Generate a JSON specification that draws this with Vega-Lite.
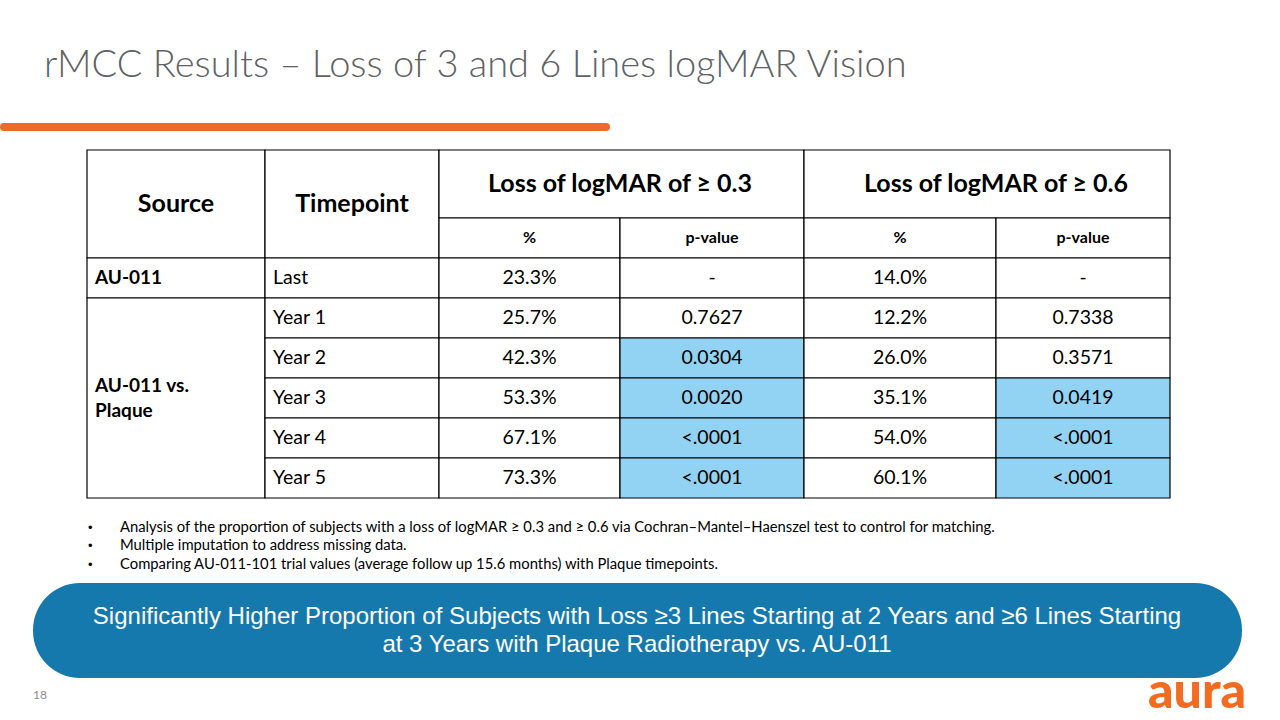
{
  "$schema": "https://vega.github.io/schema/vega-lite/v6.json",
  "width": 1280,
  "height": 720,
  "padding": 0,
  "autosize": {"type": "none"},
  "background": "white",
  "config": {"view": {"stroke": null}},
  "datasets": {
    "slide": [
      {
        "title": "rMCC Results – Loss of 3 and 6 Lines logMAR Vision",
        "bullets": "Analysis of the proportion of subjects with a loss of logMAR ≥ 0.3 and ≥ 0.6 via Cochran–Mantel–Haenszel test to control for matching.\nMultiple imputation to address missing data.\nComparing AU-011-101 trial values (average follow up 15.6 months) with Plaque timepoints.",
        "dots": "•\n•\n•",
        "banner": "Significantly Higher Proportion of Subjects with Loss ≥3 Lines Starting at 2 Years and ≥6 Lines Starting\nat 3 Years with Plaque Radiotherapy vs. AU-011",
        "page": "18",
        "logo": "aura"
      }
    ],
    "cells": [
      {"c0": 0, "c1": 1, "r0": -2.7, "r1": 0, "label": "Source", "style": "head", "sig": false},
      {"c0": 1, "c1": 2, "r0": -2.7, "r1": 0, "label": "Timepoint", "style": "head", "sig": false},
      {"c0": 2, "c1": 4, "r0": -2.7, "r1": -1, "label": "Loss of logMAR of ≥ 0.3", "style": "head", "sig": false},
      {"c0": 4, "c1": 6, "r0": -2.7, "r1": -1, "label": "Loss of logMAR of ≥ 0.6", "style": "head", "sig": false},
      {"c0": 2, "c1": 3, "r0": -1, "r1": 0, "label": "%", "style": "sub", "sig": false},
      {"c0": 3, "c1": 4, "r0": -1, "r1": 0, "label": "p-value", "style": "sub", "sig": false},
      {"c0": 4, "c1": 5, "r0": -1, "r1": 0, "label": "%", "style": "sub", "sig": false},
      {"c0": 5, "c1": 6, "r0": -1, "r1": 0, "label": "p-value", "style": "sub", "sig": false},
      {"c0": 0, "c1": 1, "r0": 0, "r1": 1, "label": "AU-011", "style": "group", "sig": false},
      {"c0": 1, "c1": 2, "r0": 0, "r1": 1, "label": "Last", "style": "left", "sig": false},
      {"c0": 2, "c1": 3, "r0": 0, "r1": 1, "label": "23.3%", "style": "body", "sig": false},
      {"c0": 3, "c1": 4, "r0": 0, "r1": 1, "label": "-", "style": "body", "sig": false},
      {"c0": 4, "c1": 5, "r0": 0, "r1": 1, "label": "14.0%", "style": "body", "sig": false},
      {"c0": 5, "c1": 6, "r0": 0, "r1": 1, "label": "-", "style": "body", "sig": false},
      {"c0": 0, "c1": 1, "r0": 1, "r1": 6, "label": "AU-011 vs.\nPlaque", "style": "group2", "sig": false},
      {"c0": 1, "c1": 2, "r0": 1, "r1": 2, "label": "Year 1", "style": "left", "sig": false},
      {"c0": 2, "c1": 3, "r0": 1, "r1": 2, "label": "25.7%", "style": "body", "sig": false},
      {"c0": 3, "c1": 4, "r0": 1, "r1": 2, "label": "0.7627", "style": "body", "sig": false},
      {"c0": 4, "c1": 5, "r0": 1, "r1": 2, "label": "12.2%", "style": "body", "sig": false},
      {"c0": 5, "c1": 6, "r0": 1, "r1": 2, "label": "0.7338", "style": "body", "sig": false},
      {"c0": 1, "c1": 2, "r0": 2, "r1": 3, "label": "Year 2", "style": "left", "sig": false},
      {"c0": 2, "c1": 3, "r0": 2, "r1": 3, "label": "42.3%", "style": "body", "sig": false},
      {"c0": 3, "c1": 4, "r0": 2, "r1": 3, "label": "0.0304", "style": "body", "sig": true},
      {"c0": 4, "c1": 5, "r0": 2, "r1": 3, "label": "26.0%", "style": "body", "sig": false},
      {"c0": 5, "c1": 6, "r0": 2, "r1": 3, "label": "0.3571", "style": "body", "sig": false},
      {"c0": 1, "c1": 2, "r0": 3, "r1": 4, "label": "Year 3", "style": "left", "sig": false},
      {"c0": 2, "c1": 3, "r0": 3, "r1": 4, "label": "53.3%", "style": "body", "sig": false},
      {"c0": 3, "c1": 4, "r0": 3, "r1": 4, "label": "0.0020", "style": "body", "sig": true},
      {"c0": 4, "c1": 5, "r0": 3, "r1": 4, "label": "35.1%", "style": "body", "sig": false},
      {"c0": 5, "c1": 6, "r0": 3, "r1": 4, "label": "0.0419", "style": "body", "sig": true},
      {"c0": 1, "c1": 2, "r0": 4, "r1": 5, "label": "Year 4", "style": "left", "sig": false},
      {"c0": 2, "c1": 3, "r0": 4, "r1": 5, "label": "67.1%", "style": "body", "sig": false},
      {"c0": 3, "c1": 4, "r0": 4, "r1": 5, "label": "<.0001", "style": "body", "sig": true},
      {"c0": 4, "c1": 5, "r0": 4, "r1": 5, "label": "54.0%", "style": "body", "sig": false},
      {"c0": 5, "c1": 6, "r0": 4, "r1": 5, "label": "<.0001", "style": "body", "sig": true},
      {"c0": 1, "c1": 2, "r0": 5, "r1": 6, "label": "Year 5", "style": "left", "sig": false},
      {"c0": 2, "c1": 3, "r0": 5, "r1": 6, "label": "73.3%", "style": "body", "sig": false},
      {"c0": 3, "c1": 4, "r0": 5, "r1": 6, "label": "<.0001", "style": "body", "sig": true},
      {"c0": 4, "c1": 5, "r0": 5, "r1": 6, "label": "60.1%", "style": "body", "sig": false},
      {"c0": 5, "c1": 6, "r0": 5, "r1": 6, "label": "<.0001", "style": "body", "sig": true}
    ]
  },
  "resolve": {"scale": {"x": "independent", "y": "independent"}},
  "layer": [
    {
      "data": {"name": "slide"},
      "layer": [
        {
          "mark": {"type": "rule", "stroke": "#EE6A2B", "strokeWidth": 8, "strokeCap": "round"},
          "encoding": {
            "x": {"datum": 4, "type": "quantitative", "scale": {"domain": [0, 1280], "range": [0, 1280], "nice": false, "zero": false}, "axis": null},
            "x2": {"datum": 606},
            "y": {"datum": 127, "type": "quantitative", "scale": {"domain": [0, 720], "range": [0, 720], "nice": false, "zero": false}, "axis": null}
          }
        },
        {
          "mark": {"type": "rect", "fill": "#1679AE", "cornerRadius": 47},
          "encoding": {
            "x": {"datum": 33, "type": "quantitative"},
            "x2": {"datum": 1242},
            "y": {"datum": 583, "type": "quantitative"},
            "y2": {"datum": 678}
          }
        },
        {
          "mark": {"type": "text", "font": "Lato", "fontWeight": 300, "fontSize": 38, "fill": "#616264", "align": "left", "baseline": "alphabetic"},
          "encoding": {
            "x": {"datum": 44, "type": "quantitative"},
            "y": {"datum": 77, "type": "quantitative"},
            "text": {"field": "title"}
          }
        },
        {
          "mark": {"type": "text", "font": "Lato", "fontSize": 14.8, "fill": "#000000", "align": "left", "baseline": "middle", "lineBreak": "\n", "lineHeight": 18.5},
          "encoding": {
            "x": {"datum": 120, "type": "quantitative"},
            "y": {"datum": 527.5, "type": "quantitative"},
            "text": {"field": "bullets"}
          }
        },
        {
          "mark": {"type": "text", "font": "Liberation Sans", "fontSize": 13, "fill": "#000000", "align": "left", "baseline": "middle", "lineBreak": "\n", "lineHeight": 18.5},
          "encoding": {
            "x": {"datum": 88, "type": "quantitative"},
            "y": {"datum": 527.5, "type": "quantitative"},
            "text": {"field": "dots"}
          }
        },
        {
          "mark": {"type": "text", "font": "Liberation Sans", "fontSize": 24, "fill": "#FFFFFF", "align": "center", "baseline": "middle", "lineBreak": "\n", "lineHeight": 28},
          "encoding": {
            "x": {"datum": 637, "type": "quantitative"},
            "y": {"datum": 617, "type": "quantitative"},
            "text": {"field": "banner"}
          }
        },
        {
          "mark": {"type": "text", "font": "Lato", "fontSize": 12, "fill": "#8C8C8C", "align": "left", "baseline": "middle"},
          "encoding": {
            "x": {"datum": 33, "type": "quantitative"},
            "y": {"datum": 695, "type": "quantitative"},
            "text": {"field": "page"}
          }
        },
        {
          "mark": {"type": "text", "font": "Lato", "fontWeight": 900, "fontSize": 50, "fill": "#F26B21", "align": "center", "baseline": "alphabetic"},
          "encoding": {
            "x": {"datum": 1197, "type": "quantitative"},
            "y": {"datum": 708, "type": "quantitative"},
            "text": {"field": "logo"}
          }
        }
      ]
    },
    {
      "data": {"name": "cells"},
      "transform": [
        {"calculate": "(datum.c0 + datum.c1) / 2", "as": "xm"},
        {"calculate": "(datum.r0 + datum.r1) / 2", "as": "ym"}
      ],
      "layer": [
        {
          "mark": {"type": "rect", "stroke": "#000000", "strokeWidth": 1.2},
          "encoding": {
            "x": {"field": "c0", "type": "quantitative", "scale": {"domain": [0, 1, 2, 3, 4, 5, 6], "range": [87, 265, 439, 620, 804, 996, 1170], "nice": false, "zero": false}, "axis": null},
            "x2": {"field": "c1"},
            "y": {"field": "r0", "type": "quantitative", "scale": {"domain": [-2.7, 6], "range": [150, 498], "nice": false, "zero": false}, "axis": null},
            "y2": {"field": "r1"},
            "fill": {"condition": {"test": "datum.sig", "value": "#92D3F3"}, "value": "#FFFFFF"}
          }
        },
        {
          "transform": [{"filter": "datum.style === 'head'"}],
          "mark": {"type": "text", "font": "Lato", "fontWeight": "bold", "fontSize": 25, "fill": "#000000", "align": "center", "baseline": "middle"},
          "encoding": {
            "x": {"field": "xm", "type": "quantitative"},
            "y": {"field": "ym", "type": "quantitative"},
            "text": {"field": "label"}
          }
        },
        {
          "transform": [{"filter": "datum.style === 'sub'"}],
          "mark": {"type": "text", "font": "Lato", "fontWeight": "bold", "fontSize": 16, "fill": "#000000", "align": "center", "baseline": "middle"},
          "encoding": {
            "x": {"field": "xm", "type": "quantitative"},
            "y": {"field": "ym", "type": "quantitative"},
            "text": {"field": "label"}
          }
        },
        {
          "transform": [{"filter": "datum.style === 'body'"}],
          "mark": {"type": "text", "font": "Lato", "fontSize": 19.5, "fill": "#000000", "align": "center", "baseline": "middle"},
          "encoding": {
            "x": {"field": "xm", "type": "quantitative"},
            "y": {"field": "ym", "type": "quantitative"},
            "text": {"field": "label"}
          }
        },
        {
          "transform": [{"filter": "datum.style === 'left'"}],
          "mark": {"type": "text", "font": "Lato", "fontSize": 19.5, "fill": "#000000", "align": "left", "baseline": "middle", "dx": 8},
          "encoding": {
            "x": {"field": "c0", "type": "quantitative"},
            "y": {"field": "ym", "type": "quantitative"},
            "text": {"field": "label"}
          }
        },
        {
          "transform": [{"filter": "datum.style === 'group'"}],
          "mark": {"type": "text", "font": "Lato", "fontWeight": "bold", "fontSize": 19, "fill": "#000000", "align": "left", "baseline": "middle", "dx": 8},
          "encoding": {
            "x": {"field": "c0", "type": "quantitative"},
            "y": {"field": "ym", "type": "quantitative"},
            "text": {"field": "label"}
          }
        },
        {
          "transform": [{"filter": "datum.style === 'group2'"}],
          "mark": {"type": "text", "font": "Lato", "fontWeight": "bold", "fontSize": 19, "fill": "#000000", "align": "left", "baseline": "middle", "dx": 8, "dy": -12, "lineBreak": "\n", "lineHeight": 25},
          "encoding": {
            "x": {"field": "c0", "type": "quantitative"},
            "y": {"field": "ym", "type": "quantitative"},
            "text": {"field": "label"}
          }
        }
      ]
    }
  ]
}
